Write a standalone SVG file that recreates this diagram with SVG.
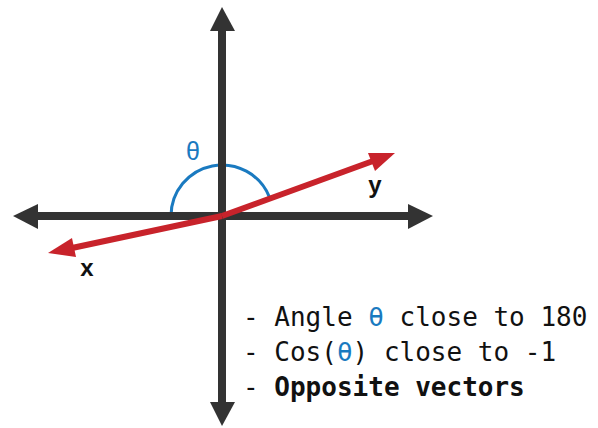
<svg xmlns="http://www.w3.org/2000/svg" width="598" height="428" viewBox="0 0 598 428">
<style>
.axis{stroke:#333;stroke-width:8;fill:none}
.ah{fill:#333}
.vec{stroke:#c8232b;stroke-width:6;fill:none}
.vh{fill:#c8232b}
.lbl{font-family:"Liberation Sans",Arial,sans-serif;font-weight:bold;font-size:24px;fill:#111}
.txt{font-family:"DejaVu Sans Mono","Liberation Mono",monospace;font-size:26px;fill:#111}
.blue{fill:#1a7ac0}
</style>
<rect width="598" height="428" fill="#fff"/>
<g id="angle">
<path d="M171,216 A51,51 0 0 1 269.3,196.9" stroke="#1a7ac0" stroke-width="3" fill="none"/>
<text x="193" y="160" class="blue" font-family="Liberation Sans,Arial,sans-serif" font-size="25" text-anchor="middle">θ</text>
</g>
<g id="connectors">
<line class="axis" x1="222" y1="30" x2="222" y2="404"/>
<polygon class="ah" points="222,7 210,31 235,31"/>
<polygon class="ah" points="222,426 210,402 235,402"/>
<line class="axis" x1="36" y1="216" x2="410" y2="216"/>
<polygon class="ah" points="13,216 38,204 38,229"/>
<polygon class="ah" points="433,216 408,204 408,229"/>
<line class="vec" x1="222" y1="216" x2="72" y2="248"/>
<polygon class="vh" points="48,253 72,238 76,257"/>
<line class="vec" x1="222" y1="216" x2="373" y2="161"/>
<polygon class="vh" points="395,153 368,153 375,171"/>
</g>
<g id="labels">
<text x="375" y="193" class="lbl" text-anchor="middle">y</text>
<text x="87" y="276" class="lbl" text-anchor="middle">x</text>
</g>
<g id="notes">
<text x="243" y="326" class="txt">- Angle <tspan class="blue">θ</tspan> close to 180</text>
<text x="243" y="361" class="txt">- Cos(<tspan class="blue">θ</tspan>) close to -1</text>
<text x="243" y="396" class="txt">- <tspan font-weight="bold">Opposite vectors</tspan></text>
</g>
</svg>
